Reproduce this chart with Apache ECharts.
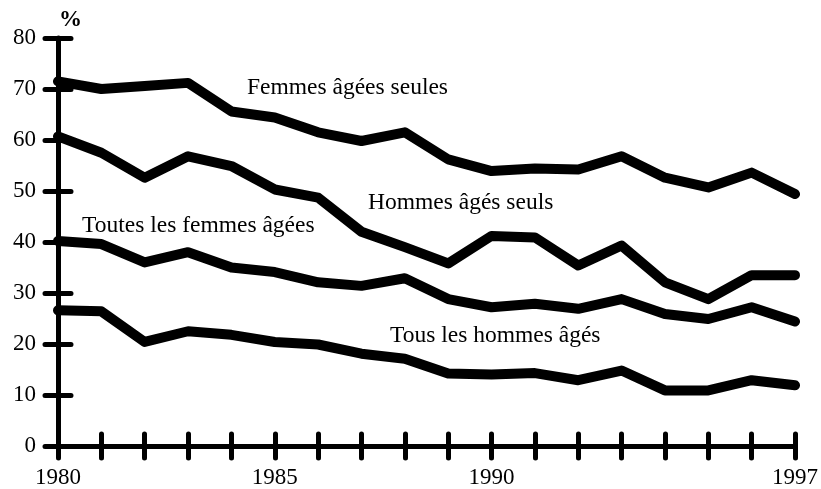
<!DOCTYPE html>
<html><head><meta charset="utf-8">
<script src="https://cdn.jsdelivr.net/npm/echarts@6/dist/echarts.min.js"></script>
<style>html,body{margin:0;padding:0;background:#fff}#c{width:821px;height:489px}</style>
</head><body><div id="c"></div>
<script>
const years = [1980,1981,1982,1983,1984,1985,1986,1987,1988,1989,1990,1991,1992,1993,1994,1995,1996,1997];
const femmesSeules = [71.5,70.0,70.6,71.2,65.6,64.4,61.5,59.8,61.5,56.2,53.9,54.4,54.2,56.8,52.6,50.7,53.6,49.4];
const hommesSeuls = [60.7,57.5,52.6,56.8,54.9,50.3,48.7,42.0,39.0,35.8,41.2,40.9,35.4,39.3,32.1,28.8,33.5,33.5];
const toutesFemmes = [40.2,39.6,36.0,38.0,35.0,34.1,32.1,31.4,32.9,28.8,27.2,27.9,26.9,28.8,25.9,24.9,27.2,24.4];
const tousHommes = [26.6,26.4,20.4,22.5,21.8,20.4,19.9,18.1,17.1,14.2,14.0,14.3,12.9,14.8,10.9,10.9,12.9,11.9];
const xTickLabels = [1980,1985,1990,1997];
const seriesNames = ['Femmes âgées seules','Hommes âgés seuls','Toutes les femmes âgées','Tous les hommes âgés'];
const unitLabel = '%';

const FONT = "'Liberation Serif','Times New Roman',serif";
const chart = echarts.init(document.getElementById('c'));
const pair = arr => years.map((y,i)=>[y,arr[i]]);
const allSeries = [femmesSeules,hommesSeuls,toutesFemmes,tousHommes];
const tickStyle = {color:'#000',width:5,cap:'round'};
const TXT = "23.5px 'Liberation Serif',serif";

chart.setOption({
  animation:false,
  grid:{left:58,right:20,top:38,bottom:41},
  xAxis:[
    {type:'value',min:1980,max:1997,interval:1,
     axisLine:{onZero:false,lineStyle:{color:'#000',width:5}},
     axisTick:{length:12,lineStyle:tickStyle},
     splitLine:{show:false},
     axisLabel:{margin:20,color:'#000',fontFamily:FONT,fontSize:23,
       showMinLabel:true,showMaxLabel:true,
       formatter:v=>xTickLabels.includes(v)?String(v):''}},
    {type:'value',min:1980,max:1997,interval:1,position:'bottom',
     axisLine:{show:false},
     axisTick:{inside:true,length:12,lineStyle:tickStyle},
     splitLine:{show:false},axisLabel:{show:false}}
  ],
  yAxis:[
    {type:'value',min:0,max:80,interval:10,
     axisLine:{onZero:false,lineStyle:{color:'#000',width:5}},
     axisTick:{length:13,lineStyle:tickStyle},
     splitLine:{show:false},
     axisLabel:{margin:22,color:'#000',fontFamily:FONT,fontSize:23}},
    {type:'value',min:0,max:80,interval:10,position:'left',
     axisLine:{show:false},
     axisTick:{inside:true,length:13,lineStyle:tickStyle},
     splitLine:{show:false},axisLabel:{show:false}}
  ],
  series: allSeries.map((arr,i)=>({
    name:seriesNames[i],type:'line',data:pair(arr),showSymbol:false,symbol:'none',
    lineStyle:{color:'#000',width:10,cap:'round',join:'round'},z:3
  })),
  graphic:[
    {type:'text',left:59,top:9,style:{text:unitLabel,font:"bold 23px 'Liberation Serif',serif",fill:'#000'}},
    {type:'text',left:247,top:76,style:{text:seriesNames[0],font:TXT,fill:'#000'}},
    {type:'text',left:368,top:191,style:{text:seriesNames[1],font:TXT,fill:'#000'}},
    {type:'text',left:82,top:214,style:{text:seriesNames[2],font:TXT,fill:'#000'}},
    {type:'text',left:390,top:324,style:{text:seriesNames[3],font:TXT,fill:'#000'}}
  ]
});
</script></body></html>
